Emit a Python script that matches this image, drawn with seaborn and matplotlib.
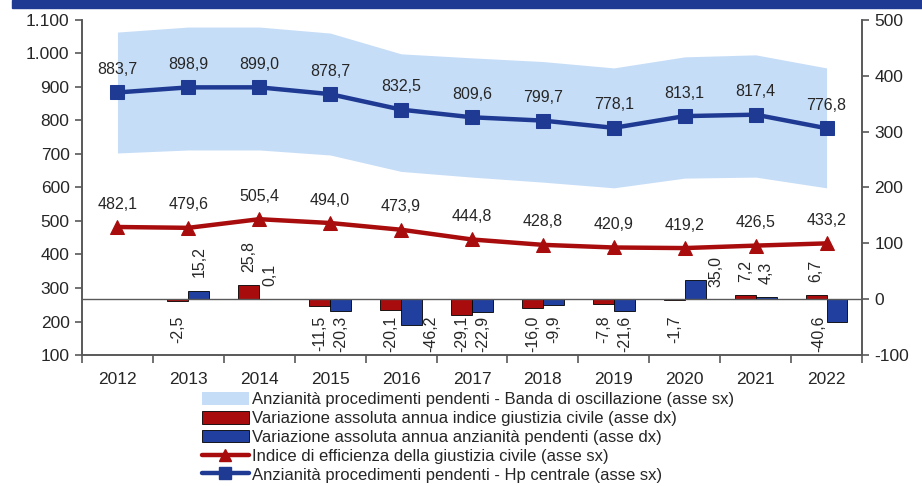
import numpy as np
import pandas as pd
import seaborn as sns
import matplotlib.pyplot as plt
from matplotlib.patches import Patch, Rectangle
from matplotlib.lines import Line2D
from matplotlib.ticker import FuncFormatter, MultipleLocator, FixedLocator

# Data
years = ['2012', '2013', '2014', '2015', '2016', '2017', '2018', '2019', '2020', '2021', '2022']
anzianita = [883.7, 898.9, 899.0, 878.7, 832.5, 809.6, 799.7, 778.1, 813.1, 817.4, 776.8]
band_high = [1064, 1079, 1079, 1061, 999, 987, 976, 957, 990, 996, 957]
band_low = [703, 712, 712, 697, 648, 631, 616, 599, 628, 631, 599]
indice = [482.1, 479.6, 505.4, 494.0, 473.9, 444.8, 428.8, 420.9, 419.2, 426.5, 433.2]
var_indice = [np.nan, -2.5, 25.8, -11.5, -20.1, -29.1, -16.0, -7.8, -1.7, 7.2, 6.7]
var_anzianita = [np.nan, 15.2, 0.1, -20.3, -46.2, -22.9, -9.9, -21.6, 35.0, 4.3, -40.6]

lbl_band = 'Anzianità procedimenti pendenti - Banda di oscillazione (asse sx)'
lbl_var_ind = 'Variazione assoluta annua indice giustizia civile (asse dx)'
lbl_var_anz = 'Variazione assoluta annua anzianità pendenti (asse dx)'
lbl_ind = 'Indice di efficienza della giustizia civile (asse sx)'
lbl_anz = 'Anzianità procedimenti pendenti - Hp centrale (asse sx)'

RED = '#A80C0C'
BLUE = '#1F3A93'
BAR_BLUE = '#213F9E'
BAND = '#C6DDF7'
GREY = '#595959'
TXT = '#262626'

sns.set_theme(style='white')
plt.rcParams['font.family'] = ['Liberation Sans', 'DejaVu Sans']

bars = pd.DataFrame({
    'year': years * 2,
    'value': var_indice + var_anzianita,
    'serie': [lbl_var_ind] * len(years) + [lbl_var_anz] * len(years),
})

fig = plt.figure(figsize=(9.22, 4.86), dpi=100)
ax = fig.add_axes([82 / 922, 1 - 355 / 486, 780 / 922, 335 / 486])
ax2 = ax.twinx()

# top banner
fig.patches.append(Rectangle((12 / 922, 1 - 8 / 486), 1, 8 / 486, transform=fig.transFigure,
                             color=BLUE, zorder=0))

# bars on the right axis
sns.barplot(data=bars, x='year', y='value', hue='serie', order=years, ax=ax2,
            palette=[RED, BAR_BLUE], width=0.59, errorbar=None, legend=False,
            edgecolor='black', linewidth=0.6, saturation=1)
ax2.axhline(0, color=GREY, lw=1.0, zorder=1)

pos = np.arange(len(years))
ax.fill_between(pos, band_low, band_high, color=BAND, lw=0, zorder=0)
sns.lineplot(x=pos, y=indice, ax=ax, color=RED, lw=3.2, marker='^', markersize=10,
             markeredgecolor=RED, zorder=3)
sns.lineplot(x=pos, y=anzianita, ax=ax, color=BLUE, lw=3.2, marker='s', markersize=10,
             markeredgecolor=BLUE, zorder=3)

ax.set_zorder(ax2.get_zorder() + 1)
ax.patch.set_visible(False)

def fmt(v):
    return f'{v:.1f}'.replace('.', ',')

for x, v in zip(pos, anzianita):
    ax.annotate(fmt(v), (x, v), xytext=(0, 16.5), textcoords='offset points',
                ha='center', va='center', fontsize=11.5, color=TXT)
for x, v in zip(pos, indice):
    ax.annotate(fmt(v), (x, v), xytext=(0, 16.5), textcoords='offset points',
                ha='center', va='center', fontsize=11.5, color=TXT)

# bar labels; a few are moved beside the bar as in the original
shift = {(1, 4): (13.5, None), (1, 10): (-13, None), (1, 8): (15, 8.5)}
for k, (cont, vals) in enumerate(zip(ax2.containers, [var_indice, var_anzianita])):
    for bar in cont:
        xc = bar.get_x() + bar.get_width() / 2
        i = int(round(xc))
        v = vals[i]
        if np.isnan(v):
            continue
        dx, dy = shift.get((k, i), (0, None))
        if dy is not None:
            ax2.annotate(fmt(v), (xc, 0), xytext=(dx, dy), textcoords='offset points',
                         rotation=90, ha='center', va='bottom', fontsize=11.5, color=TXT)
        elif v >= 0:
            ax2.annotate(fmt(v), (xc, v), xytext=(dx, 9.5), textcoords='offset points',
                         rotation=90, ha='center', va='bottom', fontsize=11.5, color=TXT)
        else:
            ax2.annotate(fmt(v), (xc, 0), xytext=(dx, -12), textcoords='offset points',
                         rotation=90, ha='center', va='top', fontsize=11.5, color=TXT)

ax.set_xlim(-0.5, len(years) - 0.5)
ax.set_ylim(100, 1100)
ax2.set_ylim(-100, 500)
ax.yaxis.set_major_locator(MultipleLocator(100))
ax2.yaxis.set_major_locator(MultipleLocator(100))
ax.yaxis.set_major_formatter(FuncFormatter(lambda v, p: f'{int(v):,}'.replace(',', '.')))
ax2.yaxis.set_major_formatter(FuncFormatter(lambda v, p: f'{int(v)}'))

ax.xaxis.set_major_locator(FixedLocator(pos))
ax.set_xticklabels(years)
ax.xaxis.set_minor_locator(FixedLocator(np.arange(-0.5, len(years), 1.0)))
ax.tick_params(axis='x', which='major', length=0, pad=12, labelsize=12.5, labelcolor=TXT)
ax.tick_params(axis='x', which='minor', length=6, width=1.2, color=GREY, direction='out', bottom=True)
ax.tick_params(axis='y', length=5, width=1.2, color=GREY, direction='out', left=True,
               labelsize=12.5, labelcolor=TXT, pad=4)
ax2.tick_params(axis='y', length=5, width=1.2, color=GREY, direction='out', right=True,
                labelsize=12.5, labelcolor=TXT, pad=4)
ax2.tick_params(axis='x', which='both', bottom=False, top=False, labelbottom=False)

for a in (ax, ax2):
    a.set_xlabel('')
    a.set_ylabel('')
    a.grid(False)
    a.spines['top'].set_visible(False)
    for s in ('left', 'right', 'bottom'):
        a.spines[s].set_color(GREY)
        a.spines[s].set_linewidth(1.2)

handles = [
    Patch(facecolor=BAND, edgecolor='none'),
    Patch(facecolor=RED, edgecolor='black', linewidth=0.6),
    Patch(facecolor=BAR_BLUE, edgecolor='black', linewidth=0.6),
    Line2D([], [], color=RED, lw=3.2, marker='^', markersize=8),
    Line2D([], [], color=BLUE, lw=3.2, marker='s', markersize=8),
]
labels = [lbl_band, lbl_var_ind, lbl_var_anz, lbl_ind, lbl_anz]
fig.legend(handles, labels, loc='upper left', bbox_to_anchor=(202 / 922, 1 - 392 / 486),
           frameon=False, fontsize=12, handlelength=2.8, handleheight=0.8,
           handletextpad=0.2, labelspacing=0.22, borderaxespad=0, borderpad=0,
           labelcolor=TXT)

fig.savefig('out.png', dpi=100)
